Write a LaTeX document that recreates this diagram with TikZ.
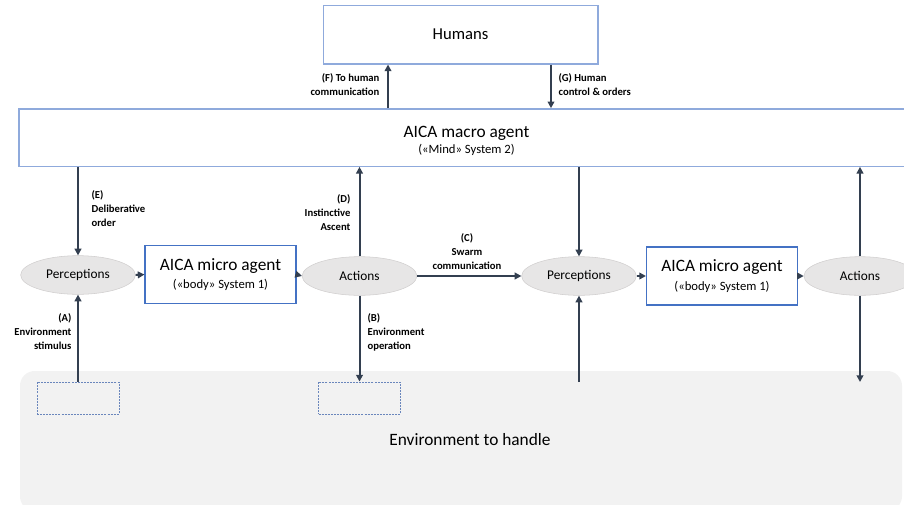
\documentclass[tikz,border=0pt]{standalone}
\usepackage{fontspec}
\setmainfont{Carlito}
\usetikzlibrary{arrows.meta,shapes.geometric}
\definecolor{arrowcol}{HTML}{333F50}
\definecolor{boxblue}{HTML}{4472C4}
\definecolor{lightblue}{HTML}{8FAADC}
\definecolor{spotblue}{HTML}{6A86BC}
\definecolor{ellfill}{HTML}{E7E6E6}
\definecolor{ellline}{HTML}{D0CECE}
\definecolor{envfill}{HTML}{F2F2F2}

\begin{document}
\begin{tikzpicture}[x=0.75pt,y=-0.75pt]
  \tikzset{
    flow/.style={line width=1.5pt,draw=arrowcol,-{Triangle[length=5pt,width=5pt]}},
    percept/.style={ellipse,fill=ellfill,draw=ellline,inner sep=0pt,minimum width=86pt,minimum height=29pt,font=\fontsize{10}{12}\selectfont},
    microbox/.style={draw=boxblue,line width=0.8pt,fill=white,minimum width=113.25pt,minimum height=43.5pt,inner sep=0pt,align=center,font=\fontsize{13}{14}\selectfont},
    bigbox/.style={draw=lightblue,line width=1pt,fill=white,inner sep=0pt,align=center},
    spot/.style={draw=spotblue,dash pattern=on 1.5pt off 0.8pt,line width=0.7pt,minimum width=61.5pt,minimum height=24pt,inner sep=0pt},
    tag/.style={inner sep=1pt,font=\fontsize{8}{10.5}\selectfont\bfseries}
  }
  \clip (0,0) rectangle (904,504);

  % Environment to handle
  \node[fill=envfill,rounded corners=11pt,minimum width=661.5pt,minimum height=105pt] (env) at (461,441) {};
  \node[font=\fontsize{13}{15}\selectfont] (envtext) at (470,440) {Environment to handle};
  \node[spot] (s1) at (78,398) {};
  \node[spot] (s2) at (359.5,398) {};
  \coordinate (in2) at (579,382);
  \coordinate (out2) at (860,382);

  % Humans and macro agent
  \node[bigbox,minimum width=206pt,minimum height=44pt,font=\fontsize{12.5}{14}\selectfont] (humans) at (460.5,34.5) {Humans};
  \node[bigbox,minimum width=690pt,minimum height=43pt] (macro) at (479,137.5) {};
  \node[align=center,inner sep=0pt] (macrotext) at (466.5,141)
    {{\fontsize{13}{14}\selectfont AICA macro agent}\\{\fontsize{9.5}{11}\selectfont («Mind» System 2)}};
  \coordinate (fx) at (388,0);
  \coordinate (gx) at (551,0);

  % Two micro agents
  \node[percept] (p1) at (78,275) {Perceptions};
  \node[microbox] (m1) at (220.5,274.5) {AICA micro agent\\{\fontsize{9.5}{11}\selectfont («body» System 1)}};
  \node[percept] (a1) at (359.5,276) {Actions};
  \node[percept] (p2) at (579,276) {Perceptions};
  \node[microbox] (m2) at (722,276) {AICA micro agent\\{\fontsize{9.5}{11}\selectfont («body» System 1)}};
  \node[percept,minimum width=84pt] (a2) at (860,276) {Actions};

  % Arrows
  \draw[flow] (macro.north -| fx) -- (humans.south -| fx);
  \draw[flow] (humans.south -| gx) -- (macro.north -| gx);
  \draw[flow] (macro.south -| p1) -- (p1.north);
  \draw[flow] (s1.north) -- (p1.south);
  \draw[flow] (p1.east) -- (m1.west);
  \draw[flow] (m1.east) -- (a1.west);
  \draw[flow] (a1.north) -- (a1 |- macro.south);
  \draw[flow] (a1.south) -- (s2.north);
  \draw[flow] (a1.east) -- (p2.west);
  \draw[flow] (macro.south -| p2) -- (p2.north);
  \draw[flow] (in2) -- (p2.south);
  \draw[flow] (p2.east) -- (m2.west);
  \draw[flow] (m2.east) -- (a2.west);
  \draw[flow] (a2.north) -- (a2 |- macro.south);
  \draw[flow] (a2.south) -- (out2);

  % Arrow labels
  \node[tag,anchor=east,align=right] (ftag) at (381,85) {(F) To human\\communication};
  \node[tag,anchor=west,align=left] (gtag) at (557,85) {(G) Human\\control \& orders};
  \node[tag,anchor=west,align=left] (etag) at (90,208.5) {(E)\\Deliberative\\order};
  \node[tag,anchor=east,align=right] (dtag) at (352,212.5) {(D)\\Instinctive\\Ascent};
  \node[tag,align=center] (ctag) at (467,252) {(C)\\Swarm\\communication};
  \node[tag,anchor=east,align=right] (atag) at (73,332) {(A)\\Environment\\stimulus};
  \node[tag,anchor=west,align=left] (btag) at (366,332) {(B)\\Environment\\operation};
\end{tikzpicture}
\end{document}
